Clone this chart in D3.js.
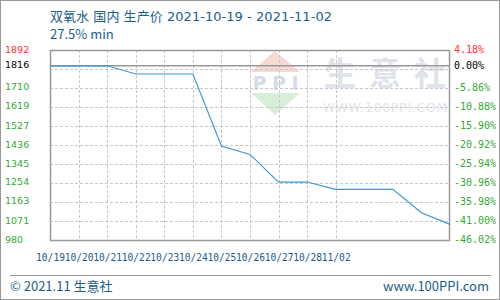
<!DOCTYPE html>
<html><head><meta charset="utf-8">
<script src="https://cdn.jsdelivr.net/npm/d3@7"></script>
<style>body{margin:0;background:#fff}svg{display:block}</style>
</head><body><svg id="c" width="500" height="300"></svg>
<script>
const dates = ["10/19","10/20","10/21","10/22","10/23","10/24","10/25","10/26","10/27","10/28","10/29","10/30","10/31","11/01","11/02"];
const values = [1816,1816,1816,1777,1777,1777,1431,1391,1258,1258,1223,1223,1223,1111,1055];
const xLabels = ["10/19","10/20","10/21","10/22","10/23","10/24","10/25","10/26","10/27","10/28","11/02"];
const leftTicks = [1892,1816,1710,1619,1527,1436,1345,1254,1163,1071,980];
const rightLabels = ["4.18%","0.00%","-5.86%","-10.88%","-15.90%","-20.92%","-25.94%","-30.96%","-35.98%","-41.00%","-46.02%"];
const gridValues = [1071.2,1162.4,1253.6,1344.8,1436,1527.2,1618.4,1709.6,1800.8];
const baseValue = 1816;
const title1 = "双氧水 国内 生产价 2021-10-19 - 2021-11-02";
const title2 = "27.5% min";
const wmChars = ["生","意","社"];

const svg = d3.select("#c");
const L=50,R=450,T=50,B=240;
const x = d3.scaleLinear().domain([0,dates.length-1]).range([L,R]);
const y = d3.scaleLinear().domain([980,1892]).range([B,T]);
const blue="#1b5e8c", green="#33aa33", red="#ff3333";

// outer frame
svg.append("rect").attr("x",0.5).attr("y",0.5).attr("width",499).attr("height",299).attr("fill","#fff").attr("stroke","#999");

// watermark
const wm = svg.append("g");
wm.append("path").attr("d","M275,51L300,72L251,72Z").attr("fill","#f7d9d4");
wm.append("text").attr("x",275.5).attr("y",90).attr("text-anchor","middle").attr("font-family","DejaVu Sans, sans-serif").attr("font-weight","bold").attr("font-size",19).attr("fill","#d6dcea").attr("textLength",46).text("PPI");
wm.append("path").attr("d","M251,93L300,93L275,115Z").attr("fill","#d9eed9");
wm.selectAll("text.wc").data(wmChars).join("text").attr("class","wc")
  .attr("x",(d,i)=>324+i*45).attr("y",85).attr("font-family","Noto Sans CJK SC").attr("font-weight","bold").attr("font-size",32).attr("fill","#dfe2ea").text(d=>d);
wm.append("text").attr("x",323).attr("y",112).attr("font-family","DejaVu Sans, sans-serif").attr("font-size",12).attr("fill","#e2e4ea").attr("textLength",124).text("WWW.100PPI.COM");

// gridlines
const grid = svg.append("g").attr("stroke","#c8c8c8").attr("stroke-dasharray","3,2");
grid.selectAll("line.h").data(gridValues).join("line").attr("x1",L).attr("x2",R)
  .attr("y1",d=>Math.round(y(d))+0.5).attr("y2",d=>Math.round(y(d))+0.5);
grid.selectAll("line.v").data(d3.range(1,xLabels.length)).join("line")
  .attr("x1",d=>Math.round(x(d))+0.5).attr("x2",d=>Math.round(x(d))+0.5).attr("y1",T).attr("y2",B);

// base line
svg.append("line").attr("x1",L).attr("x2",R).attr("y1",y(baseValue)).attr("y2",y(baseValue)).attr("stroke","#999").attr("stroke-width",1.5);

// plot frame
svg.append("rect").attr("x",L+0.5).attr("y",T+0.5).attr("width",R-L-1).attr("height",B-T).attr("fill","none").attr("stroke","#999").attr("stroke-width",1.5);

// line
svg.append("path").datum(values).attr("fill","none").attr("stroke","#3a94d6").attr("stroke-width",1.1)
  .attr("d",d3.line().x((d,i)=>x(i)).y(d=>y(d)));

// left axis
const tickColor = (i)=> i===0?red:(i===1?"#000":green);
const la = svg.append("g").attr("transform","translate(5,-1)")
  .call(d3.axisRight(y).tickValues(leftTicks).tickFormat(d3.format("d")).tickSize(0).tickPadding(0));
la.select(".domain").remove();
la.selectAll("text").attr("font-family","DejaVu Sans, sans-serif").attr("font-size",9.5).attr("fill",(d,i)=>tickColor(i));

// right axis
const ra = svg.append("g").attr("transform",`translate(${R},-1)`)
  .call(d3.axisRight(y).tickValues(leftTicks).tickFormat((d,i)=>rightLabels[i]).tickSize(0).tickPadding(4));
ra.select(".domain").remove();
ra.selectAll("text").attr("font-family","DejaVu Sans Mono, monospace").attr("font-size",10).attr("fill",(d,i)=>tickColor(i));

// x axis
const xa = svg.append("g").attr("transform",`translate(0,${B})`)
  .call(d3.axisBottom(x).tickValues(d3.range(xLabels.length)).tickFormat(i=>xLabels[i]).tickSize(0).tickPadding(14));
xa.select(".domain").remove();
xa.selectAll("text").attr("font-family","DejaVu Sans Mono, monospace").attr("font-size",9.6).attr("fill",blue);

// titles
svg.append("text").attr("x",50).attr("y",21).attr("font-family","DejaVu Sans, Noto Sans CJK SC, sans-serif").attr("font-size",13).attr("fill",blue)
  .attr("textLength",282).attr("lengthAdjust","spacing").text(title1);
svg.append("text").attr("x",50).attr("y",39).attr("font-family","Noto Sans CJK SC, sans-serif").attr("font-size",13).attr("fill",blue).text(title2);

// footer
svg.append("line").attr("x1",10).attr("x2",491).attr("y1",275.5).attr("y2",275.5).attr("stroke","#999");
svg.append("text").attr("x",10).attr("y",291).attr("font-family","Noto Sans CJK SC, sans-serif").attr("font-size",13).attr("fill",blue).text("© 2021.11 生意社");
svg.append("text").attr("x",489).attr("y",291).attr("text-anchor","end").attr("font-family","Noto Sans CJK SC, sans-serif").attr("font-size",13).attr("fill",blue).text("www.100PPI.com");
</script></body></html>
